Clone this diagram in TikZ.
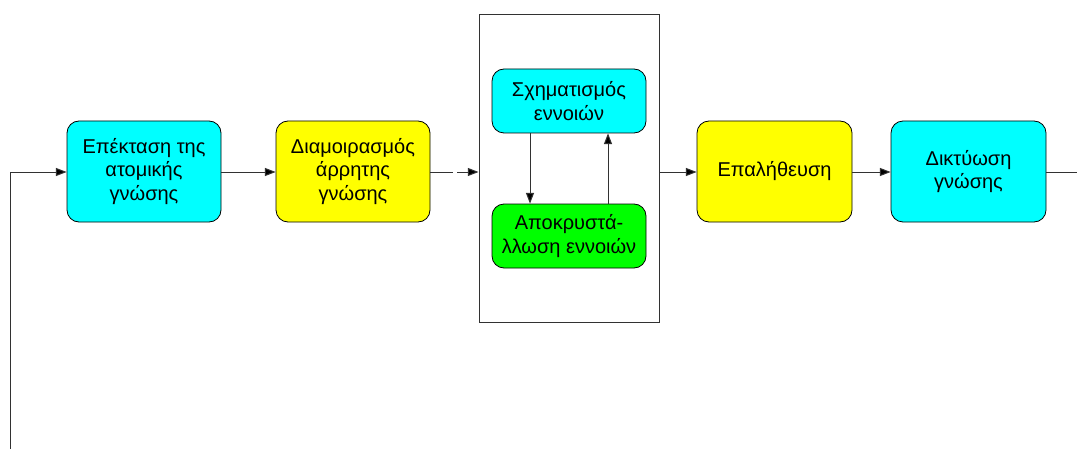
\documentclass[tikz,border=0pt]{standalone}
\usepackage{fontspec}
\setmainfont{Liberation Sans}
\usetikzlibrary{arrows.meta}
\definecolor{cyanbox}{RGB}{0,255,255}
\definecolor{yellowbox}{RGB}{255,255,0}
\definecolor{greenbox}{RGB}{0,255,0}
\definecolor{linegray}{RGB}{50,50,50}
\begin{document}
\begin{tikzpicture}[x=0.75pt,y=-0.75pt,
  box/.style={draw=black, line width=0.6pt, rounded corners=9pt, align=center,
    inner sep=0pt, font=\fontsize{15}{17.8}\selectfont},
  conn/.style={draw=linegray, line width=0.75pt, -{Triangle[length=8pt,width=6pt,fill=black]}},
  plain/.style={draw=linegray, line width=0.75pt}]
\useasboundingbox (0,0) rectangle (1077,449);
% container
\node[draw=linegray, line width=0.75pt, minimum width=135pt, minimum height=230.25pt, inner sep=0pt] (cont) at (569,168.5) {};
% boxes
\node[box, fill=cyanbox, minimum width=115.5pt, minimum height=75.75pt] (b1) at (144,171.5) {Επέκταση της\\ατομικής\\γνώσης};
\node[box, fill=yellowbox, minimum width=115.5pt, minimum height=75.75pt] (b2) at (353,171.5) {Διαμοιρασμός\\άρρητης\\γνώσης};
\node[box, fill=cyanbox, minimum width=115.5pt, minimum height=48pt] (s1) at (569,101) {Σχηματισμός\\εννοιών};
\node[box, fill=greenbox, minimum width=115.5pt, minimum height=48pt] (s2) at (569,236) {Αποκρυστά-\\λλωση εννοιών};
\node[box, fill=yellowbox, minimum width=116.25pt, minimum height=75.75pt] (b3) at (774.5,171.5) {Επαλήθευση};
\node[box, fill=cyanbox, minimum width=116.25pt, minimum height=75.75pt] (b4) at (968.5,171.5) {Δικτύωση\\γνώσης};
% coordinates
\coordinate (fbstart) at (10,449);
\coordinate (fbcorner) at (10,172);
\coordinate (outend) at (1077,172);
% connectors
\draw[plain] (fbstart) -- (fbcorner);
\draw[conn] (fbcorner) -- (b1.west |- fbcorner);
\draw[conn] (b1.east |- 0,172) -- (b2.west |- 0,172);
\draw[conn, dash pattern=on 17.25pt off 3pt] (b2.east |- 0,172) -- (cont.west |- 0,172);
\draw[conn] (cont.east |- 0,172) -- (b3.west |- 0,172);
\draw[conn] (b3.east |- 0,172) -- (b4.west |- 0,172);
\draw[plain] (b4.east |- 0,172) -- (outend);
\draw[conn] (s1.south -| 530,0) -- (s2.north -| 530,0);
\draw[conn] (s2.north -| 608,0) -- (s1.south -| 608,0);
\end{tikzpicture}
\end{document}
